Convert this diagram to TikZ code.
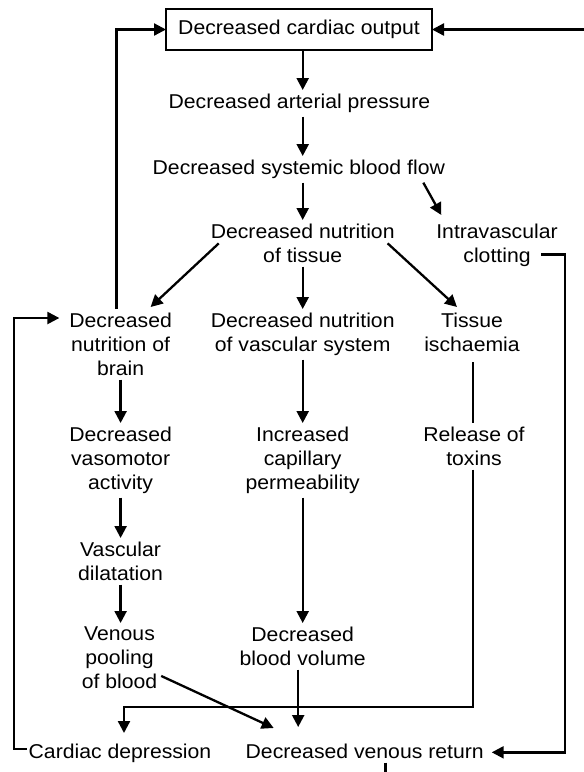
\documentclass[tikz,border=0pt]{standalone}
\usepackage{fontspec}
\setmainfont{Liberation Sans}[FakeStretch=1.06]
\usetikzlibrary{arrows.meta,calc}
\tikzset{
  lbl/.style={font=\fontsize{20}{24}\selectfont,align=center,inner sep=0pt,outer sep=4pt},
  arr/.style={-{Triangle[length=12pt,width=12pt]}},
}

\begin{document}
\begin{tikzpicture}[x=1pt,y=-1pt,line width=2.3pt]
  \useasboundingbox (0,0) rectangle (584,772);
  \node[lbl,draw,minimum width=266pt,minimum height=41pt,outer sep=0pt] (out) at (299,29.5) {Decreased cardiac output};
  \foreach \nm/\x/\y/\txt in {
    art/299.4/90/{Decreased arterial pressure},
    sys/298.8/156/{Decreased systemic blood flow},
    nuttis/302.7/220/{Decreased nutrition\\of tissue},
    clot/497/220/{Intravascular\\clotting},
    brain/120.6/309/{Decreased\\nutrition of\\brain},
    vasc/302.7/309/{Decreased nutrition\\of vascular system},
    isch/472/309/{Tissue\\ischaemia},
    vaso/120.6/423/{Decreased\\vasomotor\\activity},
    perm/302.7/423/{Increased\\capillary\\permeability},
    tox/474/423/{Release of\\toxins},
    dil/120.6/538/{Vascular\\dilatation},
    pool/119.5/623/{Venous\\pooling\\of blood},
    bvol/302.7/623/{Decreased\\blood volume},
    cdep/120/740/{Cardiac depression},
    vret/364.7/740/{Decreased venous return}}
  {
    \node[lbl,anchor=north] (\nm) at (\x,\y) {\txt};
  }
  \coordinate (feedR) at (584,29.5);
  \coordinate (feedB) at (385.4,772);

  \draw[arr] (out.south -| nuttis.north) -- (art.north -| nuttis.north);
  \draw[arr] (art.south -| nuttis.north) -- (sys.north -| nuttis.north);
  \draw[arr] (sys.south -| nuttis.north) -- (nuttis.north);
  \draw[arr] ($(sys.south east)+(-25.6,0)$) -- ($(clot.north west)+(9,-5)$);
  \draw[arr] ($(nuttis.west)+(12,0)$) -- ($(brain.north)+(30,-2)$);
  \draw[arr] (nuttis.south) -- (vasc.north);
  \draw[arr] ($(nuttis.east)+(-11,0)$) -- ($(isch.north)+(-15,-2)$);
  \draw[arr] (brain.south) -- (vaso.north);
  \draw[arr] (vaso.south) -- (dil.north);
  \draw[arr] (dil.south) -- (dil.south |- pool.north);
  \draw[arr] (vasc.south) -- (perm.north);
  \draw[arr] (perm.south) -- (bvol.north);
  \draw[arr] ($(bvol.south)+(-4.5,0)$) -- ($(bvol.south |- vret.north)+(-4.5,-13)$);
  \draw[arr] ($(pool.south east)+(0,-17)$) -- ($(vret.north)+(-91,-12)$);
  \draw ($(isch.south)+(1,6.5)$) -- ($(tox.north)+(-1,0)$);
  \draw[arr] ($(tox.south)+(-1,0)$) |- ($(cdep.north)+(4,-33)$) -- ($(cdep.north)+(4,-7)$);
  \draw[arr] ($(clot.south)+(44,-16)$) -| ($(vret.east)+(77,1)$) -- ($(vret.east)+(4,1)$);
  \draw[arr] ($(brain.north)+(-4,0)$) |- (out.west);
  \draw[arr] ($(cdep.west)+(2,-4)$) -- ++(-13,0) |- ($(brain.north west)+(-6,9)$);
  \draw[arr] (feedR) -- (out.east);
  \draw (vret.south -| feedB) -- (feedB);
\end{tikzpicture}
\end{document}
